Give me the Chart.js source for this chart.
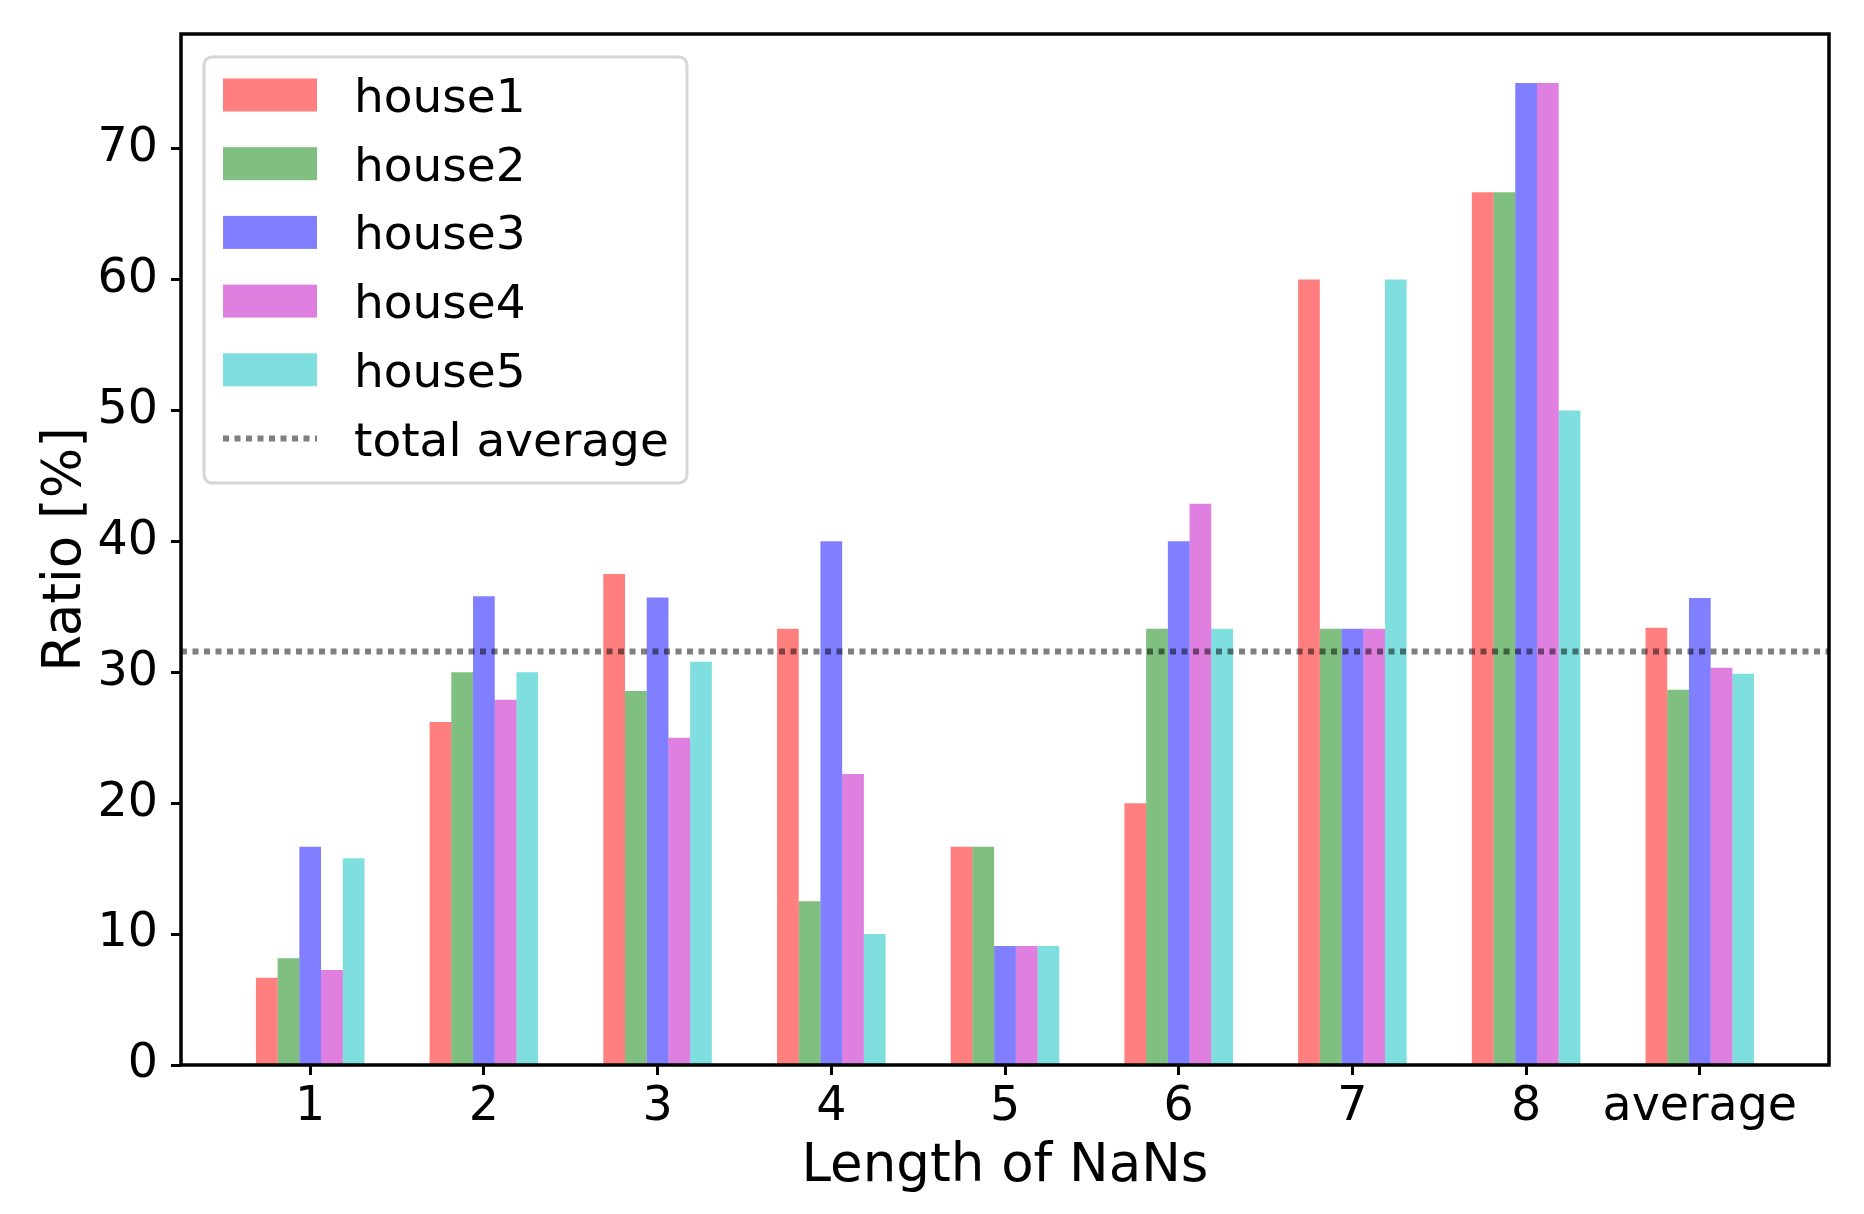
<!DOCTYPE html>
<html>
<head>
<meta charset="utf-8">
<script src="https://cdn.jsdelivr.net/npm/chart.js@4/dist/chart.umd.min.js"></script>
<style>
  html, body { margin: 0; padding: 0; background: #fff; }
  #wrap { width: 1864px; height: 1214px; position: relative; }
</style>
</head>
<body>
<div id="wrap"><canvas id="chart"></canvas></div>
<script>
const CATEGORIES = ['1', '2', '3', '4', '5', '6', '7', '8', 'average'];

const HOUSE1 = [6.67, 26.2, 37.5, 33.33, 16.67, 20.0, 60.0, 66.67, 33.4];
const HOUSE2 = [8.16, 30.0, 28.57, 12.5, 16.67, 33.33, 33.33, 66.67, 28.66];
const HOUSE3 = [16.67, 35.8, 35.71, 40.0, 9.09, 40.0, 33.33, 75.0, 35.68];
const HOUSE4 = [7.25, 27.9, 25.0, 22.22, 9.09, 42.86, 33.33, 75.0, 30.34];
const HOUSE5 = [15.8, 30.0, 30.8, 10.0, 9.09, 33.33, 60.0, 50.0, 29.88];

const TOTAL_AVERAGE = 31.58;

const X_RANGE = [-0.74375, 8.74375];
const Y_RANGE = [0, 78.75];

const FONT = "'DejaVu Sans', sans-serif";

const toPoints = arr => arr.map((v, i) => ({ x: i, y: v }));

const noPad = s => { s.paddingTop = 0; s.paddingBottom = 0; s.paddingLeft = 0; s.paddingRight = 0; };

// draws the legend box in the upper left of the plot
const boxLegend = {
    id: 'boxLegend',
    afterDraw(chart) {
        const ctx = chart.ctx;
        const area = chart.chartArea;
        const x0 = area.left + 23, y0 = area.top + 23;
        const w = 483, h = 426;
        ctx.save();
        ctx.beginPath();
        ctx.roundRect(x0, y0, w, h, 8);
        ctx.fillStyle = 'rgba(255,255,255,0.8)';
        ctx.fill();
        ctx.lineWidth = 3;
        ctx.strokeStyle = '#d6d6d6';
        ctx.stroke();

        const items = chart.data.datasets.filter(d => d.type !== 'line').concat(chart.data.datasets.filter(d => d.type === 'line'));
        ctx.font = '47px ' + FONT;
        ctx.textBaseline = 'alphabetic';
        ctx.textAlign = 'left';
        items.forEach((ds, i) => {
            const cy = y0 + 38 + i * 68.7;
            if (ds.type === 'line') {
                ctx.beginPath();
                ctx.setLineDash(ds.borderDash);
                ctx.lineWidth = ds.borderWidth;
                ctx.strokeStyle = ds.borderColor;
                ctx.moveTo(x0 + 19, cy);
                ctx.lineTo(x0 + 113, cy);
                ctx.stroke();
                ctx.setLineDash([]);
            } else {
                ctx.fillStyle = ds.backgroundColor;
                ctx.fillRect(x0 + 19, cy - 16.5, 94, 33);
            }
            ctx.fillStyle = '#000';
            ctx.fillText(ds.label, x0 + 150, cy + 17);
        });
        ctx.restore();
    }
};

// full black frame round the axes
const frame = {
    id: 'frame',
    afterDatasetsDraw(chart) {
        const { ctx, chartArea: a } = chart;
        ctx.save();
        ctx.lineWidth = 3.5;
        ctx.strokeStyle = '#000';
        ctx.strokeRect(a.left, a.top, a.right - a.left, a.bottom - a.top);
        ctx.restore();
    }
};

const barSet = (label, data, color) => ({
    type: 'bar',
    label,
    data: toPoints(data),
    backgroundColor: color,
    borderWidth: 0,
    categoryPercentage: 0.625,
    barPercentage: 1.0,
    order: 1,
});

new Chart(document.getElementById('chart'), {
    type: 'bar',
    data: {
        datasets: [
            barSet('house1', HOUSE1, 'rgba(255,0,0,0.5)'),
            barSet('house2', HOUSE2, 'rgba(0,128,0,0.5)'),
            barSet('house3', HOUSE3, 'rgba(0,0,255,0.5)'),
            barSet('house4', HOUSE4, 'rgba(191,0,191,0.5)'),
            barSet('house5', HOUSE5, 'rgba(0,191,191,0.5)'),
            {
                type: 'line',
                label: 'total average',
                data: [{ x: X_RANGE[0], y: TOTAL_AVERAGE }, { x: X_RANGE[1], y: TOTAL_AVERAGE }],
                borderColor: 'rgba(0,0,0,0.5)',
                borderWidth: 6,
                borderDash: [6, 5.5],
                borderCapStyle: 'butt',
                pointRadius: 0,
                fill: false,
                order: 0,
            },
        ]
    },
    options: {
        responsive: true,
        maintainAspectRatio: false,
        devicePixelRatio: 1,
        animation: false,
        layout: { padding: { top: 34, right: 35, left: 0, bottom: 0 } },
        plugins: {
            legend: { display: false },
            tooltip: { enabled: false },
        },
        scales: {
            x: {
                type: 'linear',
                min: X_RANGE[0],
                max: X_RANGE[1],
                offset: false,
                afterFit: s => { s.height = 149; noPad(s); },
                border: { display: false },
                grid: { offset: false, drawOnChartArea: false, drawTicks: true, tickLength: 10, tickWidth: 3, tickColor: '#000' },
                ticks: {
                    stepSize: 1,
                    includeBounds: false,
                    autoSkip: false,
                    maxRotation: 0,
                    padding: 4,
                    color: '#000',
                    font: { family: FONT, size: 47.5 },
                    callback: v => Number.isInteger(v) ? CATEGORIES[v] : '',
                },
                title: {
                    display: true,
                    text: 'Length of NaNs',
                    color: '#000',
                    font: { family: FONT, size: 53 },
                    padding: { top: 0, bottom: 15 },
                },
            },
            y: {
                min: Y_RANGE[0],
                max: Y_RANGE[1],
                afterFit: s => { s.width = 181; noPad(s); },
                border: { display: false },
                grid: { drawOnChartArea: false, drawTicks: true, tickLength: 10, tickWidth: 3, tickColor: '#000' },
                ticks: {
                    stepSize: 10,
                    includeBounds: false,
                    padding: 13,
                    color: '#000',
                    font: { family: FONT, size: 47.5 },
                },
                title: {
                    display: true,
                    text: 'Ratio [%]',
                    color: '#000',
                    font: { family: FONT, size: 53 },
                    padding: { top: 34, bottom: 0 },
                },
            },
        },
    },
    plugins: [frame, boxLegend],
});
</script>
</body>
</html>
